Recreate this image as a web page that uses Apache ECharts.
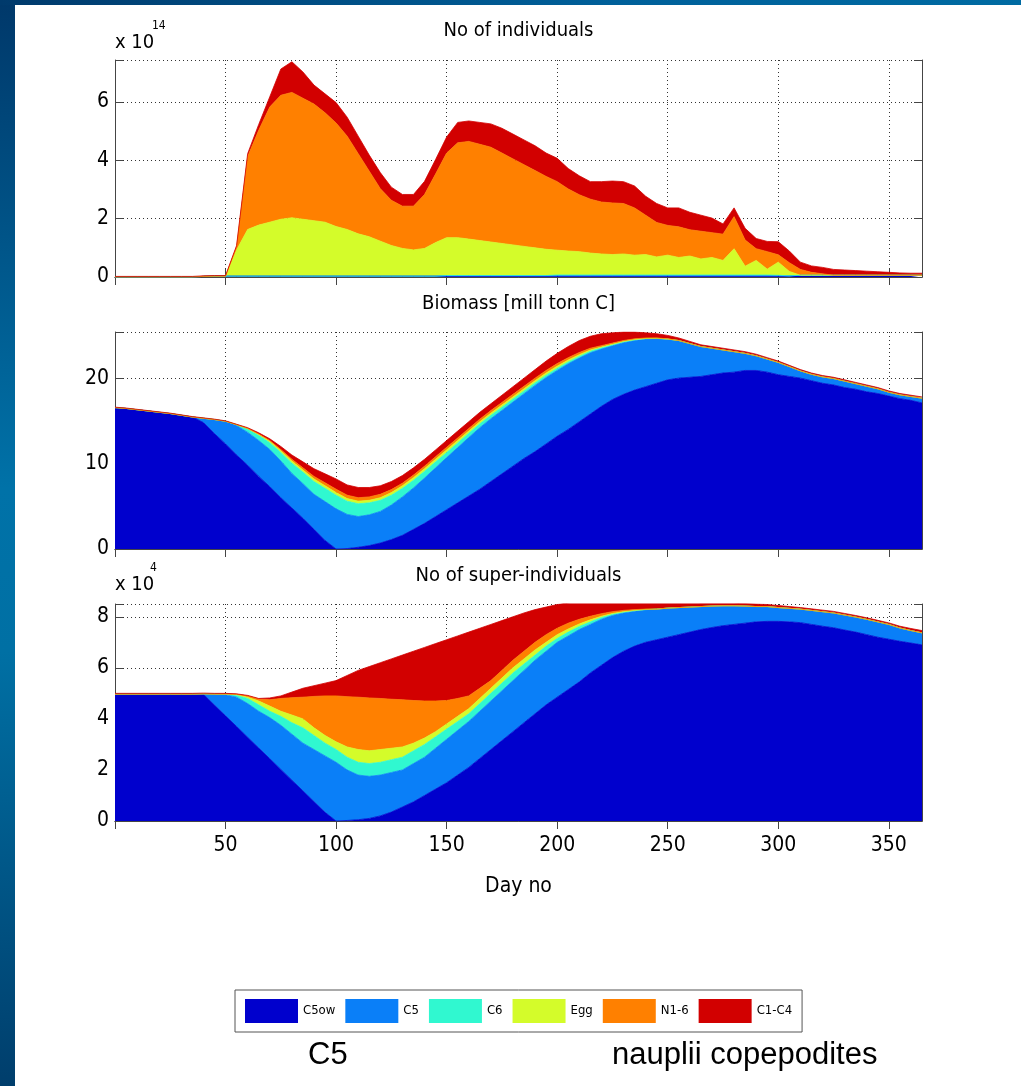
<!DOCTYPE html>
<html>
<head>
<meta charset="utf-8">
<script src="https://cdn.jsdelivr.net/npm/echarts@6/dist/echarts.min.js"></script>
<style>
  html, body { margin: 0; padding: 0; }
  body { width: 1021px; height: 1086px; position: relative; overflow: hidden;
    background: linear-gradient(180deg, #00386a 0%, #0072a8 45%, #0070a4 60%, #003e6c 100%); }
  #top { position: absolute; left: 0; top: 0; width: 1021px; height: 5px;
    background: linear-gradient(90deg, #003a6c 0%, #00609a 60%, #006ba2 100%); }
  #main { position: absolute; left: 15px; top: 5px; width: 1006px; height: 1081px; background: #fff; }
</style>
</head>
<body>
<div id="top"></div>
<div id="main"></div>
<script>
// day numbers (every 5th day)
var days = [0,5,10,15,20,25,30,35,40,45,
  50,55,60,65,70,75,80,85,90,95,
  100,105,110,115,120,125,130,135,140,145,
  150,155,160,165,170,175,180,185,190,195,
  200,205,210,215,220,225,230,235,240,245,
  250,255,260,265,270,275,280,285,290,295,
  300,305,310,315,320,325,330,335,340,345,
  350,355,360,365]

var stageNames = ['C5ow', 'C5', 'C6', 'Egg', 'N1-6', 'C1-C4']
var stageColors = ['#0000cd', '#0a7ff8', '#30f8d0', '#d4fc2a', '#ff8000', '#d20000']

// No of individuals (x 10^14)
var indC5ow = [0,0,0,0,0,0,0,0,0.02,0.03,
  0.03,0.03,0.03,0.03,0.03,0.03,0.03,0.03,0.03,0.03,
  0.03,0.03,0.03,0.03,0.03,0.03,0.03,0.03,0.03,0.03,
  0.03,0.03,0.03,0.03,0.03,0.03,0.03,0.03,0.03,0.03,
  0.03,0.03,0.03,0.03,0.03,0.03,0.03,0.03,0.03,0.03,
  0.03,0.03,0.03,0.03,0.03,0.03,0.03,0.03,0.03,0.03,
  0.03,0.03,0.05,0.05,0.05,0.05,0.05,0.05,0.05,0.05,
  0.05,0.05,0.05,0.05]
var indC5 = [0,0,0,0,0,0,0,0,0,0,
  0,0,0,0,0,0,0,0,0,0,
  0,0,0,0,0,0,0,0,0,0,
  0.02,0.02,0.02,0.02,0.02,0.02,0.02,0.02,0.02,0.02,
  0.02,0.02,0.02,0.02,0.02,0.02,0.02,0.02,0.02,0.02,
  0.02,0.02,0.02,0.02,0.02,0.02,0.02,0.02,0.02,0.02,
  0.02,0.01,0.01,0.01,0.01,0.01,0.01,0.01,0.01,0.01,
  0.01,0.01,0.01,0.01]
var indC6 = [0,0,0,0,0,0,0,0,0,0,
  0,0,0,0,0,0,0,0,0,0,
  0,0,0,0,0,0,0,0,0,0,
  0,0,0,0,0,0,0,0,0,0,
  0.02,0.02,0.02,0.02,0.02,0.02,0.02,0.02,0.02,0.02,
  0.02,0.02,0.02,0.02,0.02,0.02,0.02,0.02,0.02,0.02,
  0.01,0,0,0,0,0,0,0,0,0,
  0,0,0,0]
var indEgg = [0,0,0,0,0,0,0,0,0,0,
  0,0.9,1.6,1.75,1.85,1.95,2.0,1.95,1.9,1.85,
  1.7,1.6,1.45,1.35,1.2,1.05,0.95,0.9,0.95,1.15,
  1.3,1.3,1.25,1.2,1.15,1.1,1.05,1.0,0.95,0.9,
  0.85,0.82,0.8,0.75,0.72,0.7,0.72,0.68,0.7,0.62,
  0.68,0.6,0.65,0.55,0.6,0.5,0.9,0.3,0.5,0.2,
  0.45,0.15,0,0,0,0,0,0,0,0,
  0,0,0,0]
var indN16 = [0,0,0,0,0,0,0,0,0,0,
  0,0.1,2.5,3.25,3.95,4.25,4.3,4.15,4.0,3.75,
  3.55,3.2,2.75,2.25,1.8,1.55,1.45,1.5,1.85,2.35,
  2.9,3.25,3.35,3.3,3.25,3.1,2.95,2.8,2.65,2.5,
  2.35,2.13,1.95,1.85,1.78,1.77,1.73,1.62,1.35,1.18,
  1.02,1.05,0.9,0.95,0.85,0.9,1.1,0.9,0.4,0.6,
  0.25,0.3,0.2,0.1,0.05,0,0,0,0,0,
  0,0,0,0]
var indC1C4 = [0.02,0.02,0.02,0.02,0.02,0.02,0.02,0.02,0.02,0.02,
  0.02,0.05,0.1,0.2,0.35,0.9,1.05,0.9,0.65,0.65,
  0.7,0.65,0.6,0.55,0.55,0.45,0.4,0.4,0.45,0.5,
  0.55,0.7,0.7,0.75,0.8,0.85,0.85,0.85,0.85,0.8,
  0.8,0.7,0.65,0.6,0.7,0.75,0.75,0.75,0.65,0.65,
  0.6,0.65,0.6,0.55,0.5,0.35,0.3,0.4,0.35,0.35,
  0.45,0.4,0.25,0.22,0.22,0.2,0.18,0.16,0.14,0.12,
  0.1,0.08,0.07,0.07]

// Biomass [mill tonn C]
var bioC5ow = [16.55,16.45,16.3,16.15,16.0,15.85,15.65,15.45,14.8,13.5,
  12.3,11.0,9.8,8.5,7.3,6.0,4.8,3.6,2.3,1.0,
  0,0.05,0.2,0.4,0.7,1.1,1.6,2.3,3.0,3.8,
  4.6,5.4,6.2,7.0,7.9,8.8,9.7,10.6,11.4,12.3,
  13.2,14.0,14.9,15.8,16.7,17.5,18.1,18.6,19.0,19.4,
  19.8,20.0,20.1,20.2,20.4,20.6,20.7,20.9,20.9,20.7,
  20.4,20.2,20.0,19.7,19.4,19.2,18.9,18.7,18.4,18.2,
  17.9,17.6,17.4,17.1]
var bioC5 = [0,0,0,0,0,0,0,0,0.5,1.65,
  2.65,3.45,3.85,4.2,4.35,4.3,4.05,4.05,4.1,4.55,
  4.7,4.0,3.6,3.6,3.7,4.05,4.5,4.85,5.3,5.7,
  6.1,6.47,6.85,7.2,7.35,7.42,7.5,7.58,7.75,7.77,
  7.7,7.68,7.45,7.17,6.7,6.28,6.05,5.8,5.57,5.22,
  4.74,4.38,3.95,3.5,3.1,2.7,2.4,2.0,1.72,1.53,
  1.44,1.15,0.85,0.75,0.75,0.75,0.75,0.65,0.65,0.55,
  0.45,0.45,0.45,0.55]
var bioC6 = [0,0,0,0,0,0,0,0,0,0,
  0,0.1,0.4,0.6,0.8,1.0,1.2,1.35,1.5,1.55,
  1.6,1.55,1.5,1.4,1.3,1.15,1.0,0.9,0.8,0.7,
  0.6,0.55,0.5,0.45,0.4,0.38,0.35,0.32,0.3,0.28,
  0.25,0.22,0.2,0.18,0.15,0.12,0.1,0.08,0.05,0.03,
  0.02,0.02,0,0,0,0,0,0,0,0,
  0,0,0,0,0,0,0,0,0,0,
  0,0,0,0]
var bioEgg = [0,0,0,0,0,0,0,0,0,0,
  0,0,0.05,0.1,0.15,0.2,0.25,0.25,0.3,0.3,
  0.3,0.3,0.3,0.3,0.3,0.3,0.3,0.3,0.3,0.3,
  0.3,0.28,0.25,0.25,0.25,0.25,0.25,0.25,0.25,0.25,
  0.25,0.22,0.2,0.15,0.1,0.08,0.05,0.04,0.03,0.02,
  0.02,0,0,0,0,0,0,0,0,0,
  0,0,0,0,0,0,0,0,0,0,
  0,0,0,0]
var bioN16 = [0,0,0,0,0,0,0,0,0,0,
  0,0,0,0.05,0.1,0.15,0.2,0.25,0.3,0.35,
  0.4,0.4,0.4,0.4,0.4,0.35,0.3,0.3,0.3,0.3,
  0.3,0.3,0.3,0.3,0.3,0.3,0.3,0.3,0.3,0.3,
  0.3,0.28,0.25,0.2,0.15,0.12,0.1,0.08,0.05,0.03,
  0.02,0,0,0,0,0,0,0,0,0,
  0,0,0,0,0,0,0,0,0,0,
  0,0,0,0]
var bioC1C4 = [0.05,0.05,0.05,0.05,0.05,0.05,0.05,0.05,0.05,0.05,
  0.05,0.05,0.1,0.15,0.2,0.35,0.5,0.7,0.9,1.05,
  1.2,1.2,1.2,1.1,1.0,0.95,0.9,0.85,0.8,0.8,
  0.8,0.8,0.8,0.8,0.8,0.85,0.9,0.95,1.0,1.1,
  1.2,1.3,1.4,1.4,1.4,1.2,1.0,0.8,0.6,0.5,
  0.4,0.3,0.25,0.2,0.2,0.2,0.2,0.2,0.18,0.17,
  0.16,0.15,0.15,0.15,0.15,0.15,0.15,0.15,0.15,0.15,
  0.15,0.15,0.15,0.15]

// No of super-individuals (x 10^4)
var supC5ow = [4.97,4.97,4.97,4.97,4.97,4.97,4.97,4.97,4.96,4.54,
  4.12,3.7,3.28,2.86,2.44,2.02,1.6,1.18,0.76,0.34,
  0,0.02,0.05,0.1,0.2,0.35,0.55,0.75,1.0,1.25,
  1.5,1.8,2.1,2.45,2.8,3.15,3.5,3.85,4.2,4.55,
  4.85,5.15,5.45,5.8,6.1,6.4,6.65,6.85,7.0,7.1,
  7.2,7.3,7.4,7.5,7.58,7.65,7.7,7.75,7.8,7.82,
  7.82,7.8,7.77,7.7,7.63,7.57,7.48,7.4,7.3,7.2,
  7.12,7.04,6.97,6.9]
var supC5 = [0,0,0,0,0,0,0,0,0.02,0.43,
  0.83,1.15,1.32,1.44,1.61,1.73,1.8,1.87,2.04,2.21,
  2.3,1.98,1.75,1.65,1.6,1.55,1.45,1.5,1.5,1.6,
  1.7,1.75,1.8,1.85,1.9,1.95,2.0,2.05,2.1,2.1,
  2.15,2.1,2.05,1.9,1.8,1.65,1.5,1.37,1.27,1.2,
  1.14,1.06,0.98,0.9,0.84,0.78,0.73,0.67,0.6,0.58,
  0.54,0.53,0.53,0.55,0.57,0.58,0.59,0.59,0.6,0.6,
  0.58,0.52,0.49,0.47]
var supC6 = [0,0,0,0,0,0,0,0,0,0,
  0.01,0.08,0.2,0.25,0.25,0.35,0.45,0.6,0.55,0.5,
  0.5,0.5,0.5,0.5,0.5,0.5,0.5,0.5,0.5,0.45,
  0.4,0.35,0.3,0.3,0.3,0.3,0.3,0.25,0.2,0.2,
  0.15,0.15,0.12,0.1,0.07,0.05,0.03,0.02,0.01,0,
  0,0,0,0,0,0,0,0,0,0,
  0,0,0,0,0,0,0,0,0,0,
  0,0,0,0]
var supEgg = [0,0,0,0,0,0,0,0,0,0,
  0.01,0.02,0.05,0.15,0.2,0.2,0.3,0.35,0.3,0.3,
  0.3,0.4,0.5,0.5,0.5,0.45,0.4,0.3,0.25,0.2,
  0.2,0.2,0.2,0.2,0.2,0.2,0.2,0.2,0.2,0.15,
  0.15,0.12,0.1,0.08,0.05,0.03,0.02,0.01,0.01,0,
  0,0,0,0,0,0,0,0,0,0,
  0,0,0,0,0,0,0,0,0,0,
  0,0,0,0]
var supN16 = [0,0,0,0,0,0,0,0,0,0,
  0,0.01,0.05,0.08,0.25,0.5,0.68,0.85,1.23,1.55,
  1.8,1.97,2.05,2.07,2.0,1.92,1.85,1.67,1.45,1.2,
  0.92,0.7,0.5,0.4,0.3,0.3,0.3,0.3,0.3,0.3,
  0.25,0.23,0.18,0.14,0.1,0.07,0.05,0.03,0.01,0,
  0,0,0,0,0,0,0,0,0,0,
  0,0,0,0,0,0,0,0,0,0,
  0,0,0,0]
var supC1C4 = [0.03,0.03,0.03,0.03,0.03,0.03,0.03,0.03,0.03,0.03,
  0.03,0.02,0.02,0.02,0.07,0.1,0.22,0.35,0.42,0.5,
  0.6,0.83,1.05,1.23,1.4,1.58,1.75,1.93,2.1,2.25,
  2.38,2.45,2.5,2.35,2.2,1.95,1.7,1.5,1.28,1.08,
  0.93,0.8,0.7,0.58,0.48,0.4,0.35,0.32,0.3,0.3,
  0.26,0.24,0.22,0.15,0.13,0.12,0.12,0.1,0.1,0.08,
  0.08,0.07,0.06,0.06,0.06,0.06,0.06,0.06,0.06,0.06,
  0.06,0.07,0.08,0.09]

// tick labels
var xTicks = [50, 100, 150, 200, 250, 300, 350]
var indTicks = [0, 2, 4, 6]
var bioTicks = [0, 10, 20]
var supTicks = [0, 2, 4, 6, 8]

var panels = [
  { title: 'No of individuals', top: 55, yMax: 7.44, yStep: 2, ticks: indTicks,
    values: [indC5ow, indC5, indC6, indEgg, indN16, indC1C4] },
  { title: 'Biomass [mill tonn C]', top: 327, yMax: 25.4, yStep: 10, ticks: bioTicks,
    values: [bioC5ow, bioC5, bioC6, bioEgg, bioN16, bioC1C4] },
  { title: 'No of super-individuals', top: 599, yMax: 8.5, yStep: 2, ticks: supTicks,
    values: [supC5ow, supC5, supC6, supEgg, supN16, supC1C4] }
]

var FONT = "'DejaVu Sans Condensed', 'Liberation Sans', sans-serif"
var AXIS = '#454545'
var TICK_EVERY = 9 // one tick per 50 days (10 samples)

var chart = echarts.init(document.getElementById('main'))

var grids = [], xAxes = [], yAxes = [], series = []
panels.forEach(function (p, i) {
  grids.push({ left: 100, top: p.top, width: 807, height: 217 })
  // bottom and top x axes
  xAxes.push({
    gridIndex: i, type: 'category', data: days, boundaryGap: false,
    axisLine: { show: true, lineStyle: { color: AXIS, width: 1 } },
    axisTick: { show: true, inside: true, length: 8, interval: TICK_EVERY, lineStyle: { color: AXIS } },
    axisLabel: {
      show: i === 2, interval: TICK_EVERY, margin: 14, color: '#000', fontFamily: FONT, fontSize: 21,
      formatter: function (v) { return xTicks.indexOf(Number(v)) >= 0 ? String(v) : '' }
    },
    splitLine: { show: true, interval: TICK_EVERY, lineStyle: { color: '#333', width: 1, type: [1, 3] } }
  })
  xAxes.push({
    gridIndex: i, type: 'category', data: days, boundaryGap: false, position: 'top',
    axisLine: { show: true, lineStyle: { color: AXIS, width: 1 } },
    axisTick: { show: true, inside: true, length: 8, interval: TICK_EVERY, lineStyle: { color: AXIS } },
    axisLabel: { show: false }, splitLine: { show: false }
  })
  // left and right y axes
  yAxes.push({
    gridIndex: i, type: 'value', min: 0, max: p.yMax, interval: p.yStep,
    axisLine: { show: true, lineStyle: { color: AXIS, width: 1 } },
    axisTick: { show: true, inside: true, length: 8, lineStyle: { color: AXIS } },
    axisLabel: {
      margin: 6, color: '#000', fontFamily: FONT, fontSize: 21,
      formatter: function (v) { return p.ticks.indexOf(v) >= 0 ? String(v) : '' }
    },
    splitLine: { show: true, lineStyle: { color: '#333', width: 1, type: [1, 3] } }
  })
  yAxes.push({
    gridIndex: i, type: 'value', position: 'right', min: 0, max: p.yMax, interval: p.yStep,
    axisLine: { show: true, lineStyle: { color: AXIS, width: 1 } },
    axisTick: { show: true, inside: true, length: 8, lineStyle: { color: AXIS } },
    axisLabel: { show: false }, splitLine: { show: false }
  })
  p.values.forEach(function (vals, k) {
    series.push({
      name: stageNames[k], type: 'line', stack: 'panel' + i,
      xAxisIndex: i * 2, yAxisIndex: i * 2,
      data: vals,
      showSymbol: false, symbol: 'none', silent: true,
      lineStyle: { width: 0.8, color: stageColors[k] },
      itemStyle: { color: stageColors[k] },
      areaStyle: { color: stageColors[k], opacity: 1 },
      z: 2
    })
  })
})

function label(x, y, text, size, align, family) {
  return {
    type: 'text', x: x, y: y, silent: true,
    style: {
      text: text, fill: '#000', font: size + 'px ' + (family || FONT),
      align: align || 'left', verticalAlign: 'middle',
      textAlign: align || 'left', textVerticalAlign: 'middle'
    }
  }
}

var cx = 100 + 807 / 2
chart.setOption({
  animation: false,
  backgroundColor: '#fff',
  grid: grids,
  xAxis: xAxes,
  yAxis: yAxes,
  series: series,
  legend: {
    data: stageNames, left: 220, top: 985, orient: 'horizontal',
    icon: 'rect', itemWidth: 53, itemHeight: 24, itemGap: 10,
    padding: [9, 10], borderColor: '#555', borderWidth: 1,
    selectedMode: false,
    textStyle: { fontFamily: FONT, fontSize: 13, color: '#000' }
  },
  graphic: [
    label(cx, 26, panels[0].title, 20, 'center'),
    label(cx, 299, panels[1].title, 20, 'center'),
    label(cx, 571, panels[2].title, 20, 'center'),
    label(100, 38, 'x 10', 20),
    label(137, 21, '14', 12),
    label(100, 580, 'x 10', 20),
    label(135, 563, '4', 12),
    label(cx, 882, 'Day no', 21, 'center'),
    label(293, 1050, 'C5', 31, 'left', "'Liberation Sans', Arial, sans-serif"),
    label(597, 1050, 'nauplii copepodites', 31, 'left', "'Liberation Sans', Arial, sans-serif")
  ]
})
</script>
</body>
</html>
